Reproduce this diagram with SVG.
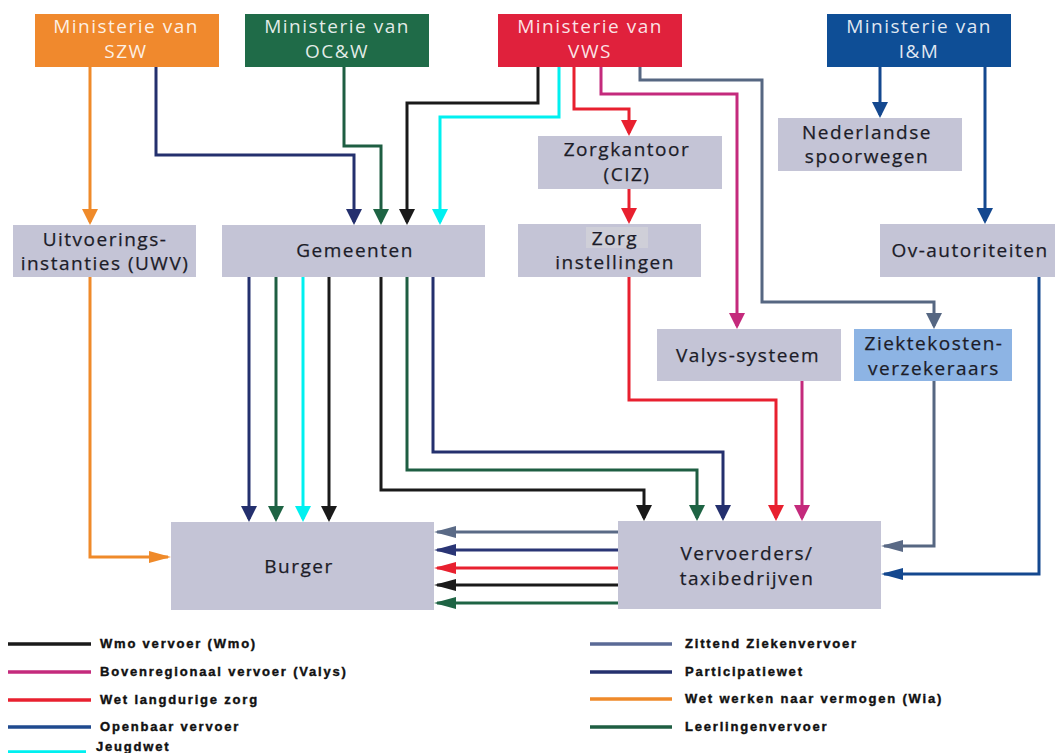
<svg xmlns="http://www.w3.org/2000/svg" width="1055" height="753" viewBox="0 0 1055 753">
<defs>
<style>
.box{fill:#c4c4d6;}
.bt{font-family:"Open Sans","Noto Sans",sans-serif;font-size:19px;letter-spacing:1.5px;fill:#1c1c28;text-anchor:middle;stroke:#1c1c28;stroke-width:0.25px;}
.mt{font-family:"Open Sans","Noto Sans",sans-serif;font-size:19px;letter-spacing:1.5px;fill:#ffffff;fill-opacity:0.88;text-anchor:middle;}
.c{fill:none;stroke-width:3;stroke-linejoin:miter;}
.lg{font-family:"Liberation Sans",Arial,sans-serif;font-size:13px;font-weight:bold;letter-spacing:1.8px;fill:#111;stroke:#111;stroke-width:0.4px;}
.ll{stroke-width:3.5;fill:none;}
</style>
<marker id="vOr" markerUnits="userSpaceOnUse" markerWidth="16" markerHeight="16" viewBox="0 0 16 16" refX="13" refY="8" orient="auto"><path d="M0,0 L16,8 L0,16 z" fill="#ef8a2a"/></marker>
<marker id="vNv" markerUnits="userSpaceOnUse" markerWidth="16" markerHeight="16" viewBox="0 0 16 16" refX="13" refY="8" orient="auto"><path d="M0,0 L16,8 L0,16 z" fill="#24306e"/></marker>
<marker id="vGr" markerUnits="userSpaceOnUse" markerWidth="16" markerHeight="16" viewBox="0 0 16 16" refX="13" refY="8" orient="auto"><path d="M0,0 L16,8 L0,16 z" fill="#1e6444"/></marker>
<marker id="vBk" markerUnits="userSpaceOnUse" markerWidth="16" markerHeight="16" viewBox="0 0 16 16" refX="13" refY="8" orient="auto"><path d="M0,0 L16,8 L0,16 z" fill="#1a1a1a"/></marker>
<marker id="vCy" markerUnits="userSpaceOnUse" markerWidth="16" markerHeight="16" viewBox="0 0 16 16" refX="13" refY="8" orient="auto"><path d="M0,0 L16,8 L0,16 z" fill="#00f0f0"/></marker>
<marker id="vRd" markerUnits="userSpaceOnUse" markerWidth="16" markerHeight="16" viewBox="0 0 16 16" refX="13" refY="8" orient="auto"><path d="M0,0 L16,8 L0,16 z" fill="#e8202f"/></marker>
<marker id="vMg" markerUnits="userSpaceOnUse" markerWidth="16" markerHeight="16" viewBox="0 0 16 16" refX="13" refY="8" orient="auto"><path d="M0,0 L16,8 L0,16 z" fill="#c42a7c"/></marker>
<marker id="vSl" markerUnits="userSpaceOnUse" markerWidth="16" markerHeight="16" viewBox="0 0 16 16" refX="13" refY="8" orient="auto"><path d="M0,0 L16,8 L0,16 z" fill="#566782"/></marker>
<marker id="vBl" markerUnits="userSpaceOnUse" markerWidth="16" markerHeight="16" viewBox="0 0 16 16" refX="13" refY="8" orient="auto"><path d="M0,0 L16,8 L0,16 z" fill="#14488f"/></marker>
<marker id="hOr" markerUnits="userSpaceOnUse" markerWidth="22" markerHeight="12" viewBox="0 0 22 12" refX="19" refY="6" orient="auto"><path d="M0,0 L22,6 L0,12 z" fill="#ef8a2a"/></marker>
<marker id="hNv" markerUnits="userSpaceOnUse" markerWidth="22" markerHeight="12" viewBox="0 0 22 12" refX="19" refY="6" orient="auto"><path d="M0,0 L22,6 L0,12 z" fill="#2a3575"/></marker>
<marker id="hGr" markerUnits="userSpaceOnUse" markerWidth="22" markerHeight="12" viewBox="0 0 22 12" refX="19" refY="6" orient="auto"><path d="M0,0 L22,6 L0,12 z" fill="#1e6444"/></marker>
<marker id="hBk" markerUnits="userSpaceOnUse" markerWidth="22" markerHeight="12" viewBox="0 0 22 12" refX="19" refY="6" orient="auto"><path d="M0,0 L22,6 L0,12 z" fill="#1a1a1a"/></marker>
<marker id="hRd" markerUnits="userSpaceOnUse" markerWidth="22" markerHeight="12" viewBox="0 0 22 12" refX="19" refY="6" orient="auto"><path d="M0,0 L22,6 L0,12 z" fill="#e8202f"/></marker>
<marker id="hSl" markerUnits="userSpaceOnUse" markerWidth="22" markerHeight="12" viewBox="0 0 22 12" refX="19" refY="6" orient="auto"><path d="M0,0 L22,6 L0,12 z" fill="#5a6a86"/></marker>
<marker id="hBl" markerUnits="userSpaceOnUse" markerWidth="22" markerHeight="12" viewBox="0 0 22 12" refX="19" refY="6" orient="auto"><path d="M0,0 L22,6 L0,12 z" fill="#14488f"/></marker>
</defs>
<rect width="1055" height="753" fill="#ffffff"/>

<g id="connectors">
<path class="c" stroke="#ef8a2a" d="M90,67 V222" marker-end="url(#vOr)"/>
<path class="c" stroke="#ef8a2a" d="M90,277 V557 H168" marker-end="url(#hOr)"/>
<path class="c" stroke="#24306e" d="M156,67 V155 H354 V222" marker-end="url(#vNv)"/>
<path class="c" stroke="#1e5e42" d="M344,67 V146 H381 V222" marker-end="url(#vGr)"/>
<path class="c" stroke="#1a1a1a" d="M538,66 V103 H407 V222" marker-end="url(#vBk)"/>
<path class="c" stroke="#00f0f0" d="M559,66 V117 H440 V222" marker-end="url(#vCy)"/>
<path class="c" stroke="#e8202f" d="M574,66 V109 H629 V133" marker-end="url(#vRd)"/>
<path class="c" stroke="#e8202f" d="M629,189 V221" marker-end="url(#vRd)"/>
<path class="c" stroke="#e8202f" d="M629,277 V400 H776 V518" marker-end="url(#vRd)"/>
<path class="c" stroke="#c42a7c" d="M601,66 V94 H737 V326" marker-end="url(#vMg)"/>
<path class="c" stroke="#c42a7c" d="M802,381 V518" marker-end="url(#vMg)"/>
<path class="c" stroke="#566782" d="M640,66 V80 H762 V302 H934 V326" marker-end="url(#vSl)"/>
<path class="c" stroke="#566782" d="M934,381 V546 H884" marker-end="url(#hSl)"/>
<path class="c" stroke="#14488f" d="M880,66 V115" marker-end="url(#vBl)"/>
<path class="c" stroke="#14488f" d="M985,66 V221" marker-end="url(#vBl)"/>
<path class="c" stroke="#14488f" d="M1039,277 V574 H884" marker-end="url(#hBl)"/>
<path class="c" stroke="#24306e" d="M249,277 V519" marker-end="url(#vNv)"/>
<path class="c" stroke="#1e5e42" d="M276,277 V519" marker-end="url(#vGr)"/>
<path class="c" stroke="#00f0f0" stroke-width="4" d="M303,277 V519" marker-end="url(#vCy)"/>
<path class="c" stroke="#1a1a1a" d="M329,277 V519" marker-end="url(#vBk)"/>
<path class="c" stroke="#1a1a1a" d="M381,277 V490 H644 V518" marker-end="url(#vBk)"/>
<path class="c" stroke="#1e5e42" d="M407,277 V470 H697 V518" marker-end="url(#vGr)"/>
<path class="c" stroke="#24306e" d="M433,277 V452 H723 V518" marker-end="url(#vNv)"/>
<path class="c" stroke="#5a6a86" d="M618,532 H437" marker-end="url(#hSl)"/>
<path class="c" stroke="#2a3575" d="M618,550 H437" marker-end="url(#hNv)"/>
<path class="c" stroke="#e8202f" d="M618,568 H437" marker-end="url(#hRd)"/>
<path class="c" stroke="#1a1a1a" d="M618,585 H437" marker-end="url(#hBk)"/>
<path class="c" stroke="#1e6444" d="M618,603 H437" marker-end="url(#hGr)"/>
</g>

<g id="min-szw"><rect x="35" y="14" width="184" height="53" fill="#f0892d"/><text class="mt" x="126" y="33">Ministerie van</text><text class="mt" x="126" y="58">SZW</text></g>
<g id="min-ocw"><rect x="245" y="14" width="184" height="53" fill="#1f6b48"/><text class="mt" x="337" y="33">Ministerie van</text><text class="mt" x="337" y="58">OC&amp;W</text></g>
<g id="min-vws"><rect x="498" y="14" width="184" height="53" fill="#e0213c"/><text class="mt" x="590" y="33">Ministerie van</text><text class="mt" x="590" y="58">VWS</text></g>
<g id="min-im"><rect x="827" y="14" width="184" height="53" fill="#0e4e96"/><text class="mt" x="919" y="33">Ministerie van</text><text class="mt" x="919" y="58">I&amp;M</text></g>

<g id="uwv"><rect class="box" x="13" y="225" width="183" height="52"/><text class="bt" x="105" y="246">Uitvoerings-</text><text class="bt" x="105" y="270">instanties (UWV)</text></g>
<g id="gemeenten"><rect class="box" x="222" y="225" width="263" height="52"/><text class="bt" x="355" y="257">Gemeenten</text></g>
<g id="zorgkantoor"><rect class="box" x="538" y="136" width="184" height="53"/><text class="bt" x="627" y="156">Zorgkantoor</text><text class="bt" x="627" y="181">(CIZ)</text></g>
<g id="zorginstellingen"><rect class="box" x="518" y="224" width="183" height="53"/><rect x="586" y="227" width="62" height="21" fill="#cfcfd8"/><text class="bt" x="615" y="245">Zorg</text><text class="bt" x="615" y="269">instellingen</text></g>
<g id="ns"><rect class="box" x="778" y="118" width="184" height="53"/><text class="bt" x="867" y="139">Nederlandse</text><text class="bt" x="867" y="163">spoorwegen</text></g>
<g id="ov"><rect class="box" x="880" y="224" width="175" height="53"/><text class="bt" x="970" y="257">Ov-autoriteiten</text></g>
<g id="valys"><rect class="box" x="657" y="329" width="184" height="52"/><text class="bt" x="748" y="362">Valys-systeem</text></g>
<g id="ziektekosten"><rect x="854" y="329" width="158" height="52" fill="#8db4e4"/><text class="bt" x="934" y="350">Ziektekosten-</text><text class="bt" x="934" y="375">verzekeraars</text></g>
<g id="burger"><rect class="box" x="171" y="522" width="263" height="88"/><text class="bt" x="299" y="573">Burger</text></g>
<g id="vervoerders"><rect class="box" x="618" y="521" width="263" height="88"/><text class="bt" x="747" y="560">Vervoerders/</text><text class="bt" x="747" y="585">taxibedrijven</text></g>

<g id="legend">
<line class="ll" x1="8" y1="644" x2="91" y2="644" stroke="#1a1a1a"/><text class="lg" x="100" y="648">Wmo vervoer (Wmo)</text>
<line class="ll" x1="8" y1="672" x2="91" y2="672" stroke="#c42a7c"/><text class="lg" x="100" y="676">Bovenregionaal vervoer (Valys)</text>
<line class="ll" x1="8" y1="700" x2="91" y2="700" stroke="#e8202f"/><text class="lg" x="100" y="704">Wet langdurige zorg</text>
<line class="ll" x1="8" y1="727" x2="91" y2="727" stroke="#1f4a8f"/><text class="lg" x="100" y="731">Openbaar vervoer</text>
<line class="ll" x1="8" y1="752" x2="86" y2="752" stroke="#00f0f0"/><text class="lg" x="96" y="751">Jeugdwet</text>
<line class="ll" x1="590" y1="644" x2="672" y2="644" stroke="#5a6a96"/><text class="lg" x="685" y="648">Zittend Ziekenvervoer</text>
<line class="ll" x1="590" y1="672" x2="672" y2="672" stroke="#24306e"/><text class="lg" x="685" y="676">Participatiewet</text>
<line class="ll" x1="590" y1="699" x2="672" y2="699" stroke="#ef8a2a"/><text class="lg" x="685" y="703">Wet werken naar vermogen (Wia)</text>
<line class="ll" x1="590" y1="727" x2="672" y2="727" stroke="#1e5e42"/><text class="lg" x="685" y="731">Leerlingenvervoer</text>
</g>
</svg>
